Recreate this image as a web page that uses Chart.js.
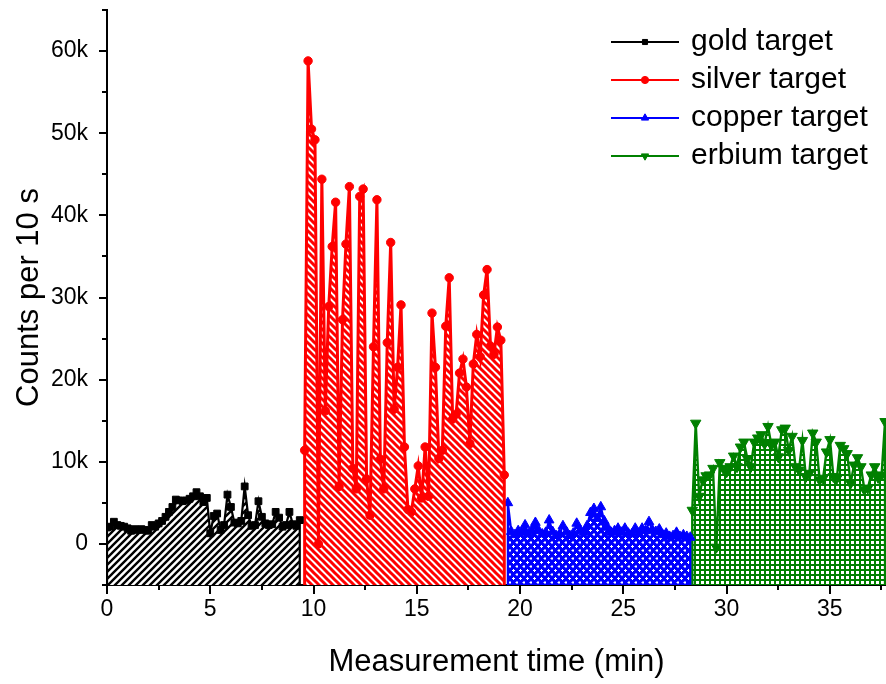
<!DOCTYPE html>
<html>
<head>
<meta charset="utf-8">
<title>Counts per 10 s by target</title>
<script src="https://cdn.jsdelivr.net/npm/chart.js@4.4.1/dist/chart.umd.min.js"></script>
<style>
  html, body { margin: 0; padding: 0; background: #ffffff; }
  #wrap { width: 886px; height: 684px; }
</style>
</head>
<body>
<div id="wrap"><canvas id="chart" width="886" height="684"></canvas></div>
<script>
// ---- data: one reading every 10 s, counts per reading ----
const SAMPLE_MIN = 1 / 6;

const goldStart = 0;
const gold = [2000, 2100, 2700, 2300, 2200, 2100, 1900, 1600, 1800, 1700, 1800, 1700, 1600, 2300, 2100,
  2500, 2800, 3300, 3900, 4500, 5400, 5300, 5200, 5300, 5500, 5800, 6300, 5800, 5100, 5600, 1300,
  3400, 3700, 1700, 2300, 6000, 4500, 2600, 2500, 2800, 7000, 3500, 2200, 2300, 5200, 3300, 2500,
  2300, 2400, 3900, 3200, 2100, 2300, 3900, 2400, 2200, 2900];

const silverStart = 9.57;
const silver = [11400, 58800, 50500, 49200, 0, 44400, 16200, 28900, 36200, 41600, 7000, 27300, 36500,
  43500, 9200, 6700, 42300, 43200, 7900, 3500, 24000, 41900, 10300, 6700, 24500, 36700, 16400, 21500,
  29100, 11800, 4200, 3900, 6700, 9500, 5600, 11800, 5800, 28100, 21500, 10400, 11400, 26500, 32400,
  15200, 15800, 20800, 22500, 19100, 12200, 21900, 25500, 22800, 30300, 33400, 24100, 23100, 26400,
  24800, 8400];

const copperStart = 19.41;
const copper = [5000, 1500, 1100, 1600, 1400, 2300, 1200, 1700, 2600, 1600, 1200, 1400, 2900, 1500,
  1000, 1200, 2200, 1500, 1000, 1300, 2500, 1700, 1400, 2200, 3800, 4300, 3100, 4500, 2800, 2000,
  1400, 1600, 1900, 1400, 1900, 1300, 1200, 1900, 1300, 1900, 1600, 2700, 1700, 1500, 1800, 1100,
  1300, 900, 1000, 1400, 900, 1100, 900, 800];

const erbiumStart = 28.34;
const erbium = [4100, 14700, 5800, 7800, 8300, 8400, 9200, -400, 9900, 9200, 8800, 9400, 10700, 9400,
  11800, 12400, 10400, 9400, 12400, 12900, 13300, 12200, 14300, 12000, 12400, 10600, 13900, 14100,
  11400, 13100, 9400, 9000, 12600, 8200, 8600, 13500, 12400, 7800, 8000, 11200, 12700, 8200, 8000,
  12000, 11600, 11000, 7400, 9600, 10500, 9400, 6600, 6800, 8400, 9400, 8100, 8400, 14900];

const seriesNames = ['gold target', 'silver target', 'copper target', 'erbium target'];
const xTickLabels = ['0', '5', '10', '15', '20', '25', '30', '35'];
const yTickLabels = ['0', '10k', '20k', '30k', '40k', '50k', '60k'];

// ---- axis ranges ----
const X_MIN = 0, X_MAX = 37.72;
const Y_MIN = -5000, Y_MAX = 65000;

const FONT = "'Liberation Sans', Arial, Helvetica, sans-serif";

// Build {x,y} points; the run is closed down to the axis floor at both ends
function series(start, values) {
  const pts = values.map((v, i) => ({ x: start + i * SAMPLE_MIN, y: v }));
  return [{ x: pts[0].x, y: Y_MIN }, ...pts, { x: pts[pts.length - 1].x, y: Y_MIN }];
}

// ---- fill patterns ----
function tile(w, h, paint) {
  const c = document.createElement('canvas');
  c.width = w; c.height = h;
  const g = c.getContext('2d');
  g.fillStyle = '#ffffff';
  g.fillRect(0, 0, w, h);
  paint(g, w, h);
  return document.createElement('canvas').getContext('2d').createPattern(c, 'repeat');
}
function diagonal(color, width, rising) {
  return tile(7, 7, (g, w, h) => {
    g.strokeStyle = color; g.lineWidth = width; g.lineCap = 'square';
    g.beginPath();
    for (const o of [-w, 0, w]) {
      if (rising) { g.moveTo(o - 1, h + 1); g.lineTo(o + w + 1, -1); }
      else { g.moveTo(o - 1, -1); g.lineTo(o + w + 1, h + 1); }
    }
    g.stroke();
  });
}
const goldFill = diagonal('#000000', 2.4, true);
const silverFill = diagonal('#ff0000', 3, false);
const copperFill = tile(7, 8, (g, w, h) => {
  g.fillStyle = '#0000ff'; g.fillRect(0, 0, w, h);
  g.fillStyle = '#ffffff';
  const holes = [[1, 1], [4.5, 5]];
  for (const [hx, hy] of holes) {
    g.fillRect(hx, hy + 1, 3, 1);
    g.fillRect(hx + 1, hy, 1, 3);
  }
});
const erbiumFill = tile(5, 5, (g) => {
  g.fillStyle = '#008000'; g.fillRect(0, 0, 5, 5);
  g.fillStyle = '#ffffff'; g.fillRect(1, 1, 3, 3);
});

// ---- legend icons: line with its marker ----
function legendIcon(color, pointStyle, rotation, radius) {
  const c = document.createElement('canvas');
  c.width = 68; c.height = 16;
  const g = c.getContext('2d');
  g.strokeStyle = color; g.lineWidth = 2;
  g.beginPath(); g.moveTo(0, 8); g.lineTo(68, 8); g.stroke();
  g.fillStyle = color; g.lineWidth = 1;
  Chart.helpers.drawPoint(g, { pointStyle, radius, rotation, borderWidth: 1 }, 34, 8);
  return c;
}

const edgeless = (r) => (ctx) => {
  const n = ctx.dataset.data.length;
  return (ctx.dataIndex === 0 || ctx.dataIndex === n - 1) ? 0 : r;
};

function dataset(label, start, values, color, fill, width, style, rotation, radius, iconRadius) {
  return {
    label,
    data: series(start, values),
    borderColor: color,
    backgroundColor: fill,
    fill: 'start',
    borderWidth: width,
    tension: 0,
    pointStyle: style,
    rotation,
    pointRadius: edgeless(radius),
    pointBackgroundColor: color,
    pointBorderColor: color,
    pointBorderWidth: 1,
    legendIcon: legendIcon(color, style, rotation, iconRadius)
  };
}

const datasets = [
  dataset(seriesNames[0], goldStart, gold, '#000000', goldFill, 2.2, 'rect', 0, 4.8, 3.6),
  dataset(seriesNames[1], silverStart, silver, '#ff0000', silverFill, 3, 'circle', 0, 4.2, 3.6),
  dataset(seriesNames[2], copperStart, copper, '#0000ff', copperFill, 2.2, 'triangle', 0, 5.6, 4.2),
  dataset(seriesNames[3], erbiumStart, erbium, '#008000', erbiumFill, 2.4, 'triangle', 180, 6, 4.2)
];

const near = (v, step) => Math.abs(v / step - Math.round(v / step)) < 1e-6;

// Outward tick marks: long at labelled values, short in between
const axisTicks = {
  id: 'axisTicks',
  afterDraw(chart) {
    const { ctx } = chart;
    const x = chart.scales.x, y = chart.scales.y;
    ctx.save();
    ctx.strokeStyle = '#000000';
    ctx.lineWidth = 2;
    ctx.beginPath();
    x.ticks.forEach(t => {
      const px = Math.round(x.getPixelForValue(t.value));
      const len = near(t.value, 5) ? 9 : 5;
      ctx.moveTo(px, x.top); ctx.lineTo(px, x.top + len);
    });
    y.ticks.forEach(t => {
      const py = Math.round(y.getPixelForValue(t.value));
      const len = near(t.value, 10000) ? 8 : 5;
      ctx.moveTo(y.right, py); ctx.lineTo(y.right - len, py);
    });
    ctx.stroke();
    ctx.restore();
  }
};

// Legend sits inside the plot, upper right
const legendPlacement = {
  id: 'legendPlacement',
  beforeDraw(chart) {
    const lg = chart.legend;
    lg.left = 606; lg.top = 19;
    lg.right = chart.width; lg.bottom = 222;
    lg.width = lg.right - lg.left; lg.height = lg.bottom - lg.top;
  }
};

new Chart(document.getElementById('chart'), {
  type: 'line',
  data: { datasets },
  options: {
    responsive: false,
    animation: false,
    devicePixelRatio: 1,
    events: [],
    layout: { padding: { left: 0, right: 0, top: 10, bottom: 0 } },
    plugins: {
      tooltip: { enabled: false },
      legend: {
        position: 'chartArea',
        align: 'start',
        labels: {
          usePointStyle: true,
          pointStyleWidth: 62,
          padding: 8,
          color: '#000000',
          font: { family: FONT, size: 30 },
          generateLabels(chart) {
            return chart.data.datasets.map((ds, i) => ({
              text: ds.label,
              pointStyle: ds.legendIcon,
              fillStyle: ds.borderColor,
              strokeStyle: ds.borderColor,
              fontColor: '#000000',
              lineWidth: 0,
              hidden: false,
              datasetIndex: i
            }));
          }
        }
      }
    },
    scales: {
      x: {
        type: 'linear',
        min: X_MIN, max: X_MAX,
        border: { display: true, color: '#000000', width: 2 },
        grid: { display: false, drawTicks: true, tickLength: 8 },
        ticks: {
          stepSize: 2.5,
          includeBounds: false,
          autoSkip: false,
          maxRotation: 0,
          padding: 3,
          color: '#000000',
          font: { family: FONT, size: 23 },
          callback: (v) => near(v, 5) ? (xTickLabels[Math.round(v / 5)] ?? '') : ''
        },
        title: {
          display: true,
          text: 'Measurement time (min)',
          color: '#000000',
          font: { family: FONT, size: 31 },
          padding: { top: 0, bottom: 3 }
        },
        afterFit(s) { s.height = 99; s.paddingLeft = 0; s.paddingRight = 0; }
      },
      y: {
        type: 'linear',
        min: Y_MIN, max: Y_MAX,
        border: { display: true, color: '#000000', width: 2 },
        grid: { display: false, drawTicks: true, tickLength: 8 },
        ticks: {
          stepSize: 5000,
          includeBounds: false,
          autoSkip: false,
          padding: 11,
          color: '#000000',
          font: { family: FONT, size: 23 },
          callback: (v) => (v >= 0 && near(v, 10000)) ? (yTickLabels[Math.round(v / 10000)] ?? '') : ''
        },
        title: {
          display: true,
          text: 'Counts per 10 s',
          color: '#000000',
          font: { family: FONT, size: 31 },
          padding: { top: 11, bottom: 0 }
        },
        afterFit(s) { s.width = 107; s.paddingTop = 0; s.paddingBottom = 0; }
      }
    }
  },
  plugins: [legendPlacement, axisTicks]
});
</script>
</body>
</html>
